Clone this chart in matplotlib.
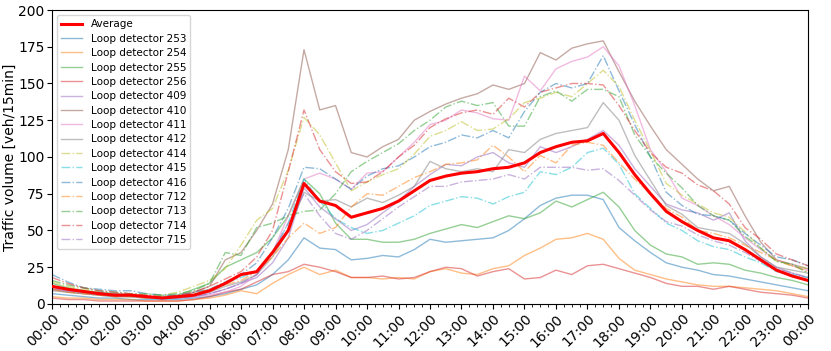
import matplotlib
matplotlib.use("Agg")
import matplotlib.pyplot as plt
import numpy as np
from matplotlib.ticker import MultipleLocator

# half-hourly readings, 00:00 .. 24:00 (49 values each)
hours = np.arange(49) * 0.5
tick_labels = [f"{h % 24:02d}:00" for h in range(25)]

average = [12, 10, 8.5, 7, 6, 6, 5, 4, 5, 6, 9, 14, 20, 22, 35, 50, 82, 70, 67, 59,
           62, 65, 70, 77, 84, 87, 89, 90, 92, 93, 96, 103, 107, 110, 111, 116, 103, 88, 75, 63,
           56, 50, 45, 43, 37, 30, 23, 19, 16]

det_253 = [7, 6, 5, 4, 4, 3, 3, 3, 3, 4, 5, 7, 10, 13, 20, 30, 45, 38, 37, 30,
           31, 33, 32, 37, 44, 42, 43, 44, 45, 50, 58, 67, 72, 74, 74, 71, 52, 43, 35, 28,
           25, 23, 20, 19, 17, 15, 13, 11, 9]
det_254 = [5, 4, 4, 3, 3, 3, 2, 2, 2, 3, 4, 6, 9, 7, 14, 20, 25, 20, 23, 18,
           18, 17, 18, 17, 22, 24, 21, 20, 24, 26, 33, 38, 44, 45, 48, 44, 31, 23, 20, 17,
           15, 13, 12, 12, 11, 10, 9, 7, 5]
det_255 = [14, 11, 9, 8, 7, 6, 5, 5, 6, 10, 14, 25, 30, 35, 45, 60, 85, 75, 55, 44,
           44, 42, 42, 44, 48, 51, 54, 52, 56, 60, 58, 62, 70, 66, 71, 76, 66, 50, 40, 34,
           32, 27, 28, 27, 23, 21, 18, 16, 13]
det_256 = [4, 3, 3, 2, 2, 2, 2, 2, 2, 3, 5, 8, 10, 15, 20, 22, 27, 25, 22, 18,
           18, 19, 17, 18, 22, 25, 24, 19, 22, 24, 17, 18, 23, 20, 26, 27, 24, 21, 18, 14,
           12, 12, 10, 12, 10, 8, 7, 6, 4]
det_409 = [10, 9, 8, 7, 6, 6, 5, 4, 4, 5, 7, 10, 14, 18, 28, 45, 79, 66, 58, 50,
           54, 62, 70, 80, 88, 95, 94, 100, 103, 96, 93, 107, 103, 107, 112, 118, 108, 92, 80, 68,
           64, 62, 57, 62, 43, 32, 25, 21, 18]
det_410 = [10, 8, 7, 6, 5, 5, 4, 4, 5, 8, 12, 30, 35, 50, 68, 105, 173, 132, 135, 103,
           100, 107, 112, 125, 131, 136, 140, 143, 149, 146, 150, 171, 166, 174, 177, 179, 158, 138, 121, 105,
           95, 85, 77, 80, 60, 42, 30, 27, 24]
det_411 = [10, 9, 8, 7, 6, 6, 5, 4, 4, 5, 6, 8, 12, 20, 35, 60, 85, 89, 85, 78,
           89, 90, 100, 110, 122, 125, 132, 130, 126, 125, 155, 145, 160, 165, 168, 175, 162, 135, 105, 90,
           72, 67, 60, 54, 45, 37, 30, 26, 23]
det_412 = [9, 8, 7, 6, 5, 5, 4, 4, 4, 6, 8, 12, 15, 20, 32, 50, 76, 70, 71, 66,
           72, 69, 74, 80, 97, 92, 90, 92, 90, 105, 103, 112, 116, 118, 120, 137, 125, 101, 84, 67,
           61, 52, 50, 48, 41, 32, 25, 23, 21]
det_414 = [15, 12, 10, 8, 7, 6, 6, 6, 8, 12, 16, 24, 40, 57, 65, 91, 127, 115, 96, 77,
           83, 88, 92, 102, 114, 118, 124, 118, 119, 126, 137, 140, 144, 141, 150, 159, 148, 125, 104, 82,
           74, 68, 62, 59, 49, 38, 29, 26, 24]
det_415 = [12, 10, 8, 7, 6, 5, 5, 4, 5, 7, 10, 14, 18, 22, 35, 55, 85, 70, 58, 52,
           48, 50, 55, 60, 67, 70, 73, 72, 68, 73, 76, 90, 88, 93, 103, 106, 95, 75, 65, 55,
           50, 43, 39, 37, 32, 28, 22, 20, 18]
det_416 = [20, 15, 11, 10, 9, 9, 7, 6, 6, 8, 10, 15, 20, 28, 45, 65, 93, 92, 85, 78,
           87, 92, 94, 100, 107, 110, 115, 113, 118, 113, 131, 144, 150, 147, 150, 169, 145, 122, 100, 76,
           67, 61, 60, 57, 48, 40, 32, 30, 26]
det_712 = [10, 8, 7, 6, 5, 5, 4, 4, 5, 7, 10, 13, 16, 22, 32, 45, 55, 48, 52, 66,
           75, 74, 80, 86, 90, 95, 96, 98, 108, 100, 90, 101, 96, 108, 110, 108, 96, 85, 75, 65,
           59, 50, 48, 45, 40, 35, 30, 26, 22]
det_713 = [16, 13, 11, 9, 8, 7, 7, 6, 7, 9, 14, 35, 33, 52, 55, 60, 63, 64, 75, 90,
           97, 103, 109, 118, 125, 134, 138, 135, 137, 121, 121, 141, 145, 138, 146, 146, 141, 115, 100, 89,
           79, 67, 60, 57, 46, 38, 29, 27, 21]
det_714 = [18, 14, 11, 9, 8, 7, 6, 5, 6, 8, 12, 17, 22, 32, 50, 90, 132, 105, 90, 82,
           83, 90, 100, 108, 120, 126, 130, 132, 129, 140, 134, 144, 147, 150, 150, 149, 135, 118, 103, 93,
           89, 81, 77, 68, 52, 44, 34, 30, 26]
det_715 = [11, 9, 8, 8, 7, 6, 5, 4, 4, 5, 7, 10, 14, 20, 35, 55, 75, 60, 48, 44,
           50, 58, 66, 73, 80, 80, 83, 84, 85, 88, 85, 93, 93, 93, 91, 92, 84, 74, 64, 56,
           53, 47, 43, 40, 35, 29, 24, 21, 18]

detectors = [
    ("253", det_253), ("254", det_254), ("255", det_255), ("256", det_256),
    ("409", det_409), ("410", det_410), ("411", det_411), ("412", det_412),
    ("414", det_414), ("415", det_415), ("416", det_416), ("712", det_712),
    ("713", det_713), ("714", det_714), ("715", det_715),
]
solid_ids = {"253", "254", "255", "256", "409", "410", "411", "412"}

fig = plt.figure(figsize=(8.31, 3.51), dpi=100)
ax = fig.add_axes([0.0626, 0.134, 0.9097, 0.8375])

colors = plt.rcParams['axes.prop_cycle'].by_key()['color']

ax.plot(hours, average, color='red', lw=2.2, label='Average', zorder=5)
for i, (name, vals) in enumerate(detectors):
    ls = '-' if name in solid_ids else '-.'
    ax.plot(hours, vals, color=colors[i % 10], lw=1.0, alpha=0.5, ls=ls,
            label=f'Loop detector {name}')

ax.set_xlim(0, 24)
ax.set_ylim(0, 200)
ax.set_xticks(range(25))
ax.set_xticklabels(tick_labels, rotation=45, ha='right', rotation_mode='anchor')
ax.xaxis.set_minor_locator(MultipleLocator(0.25))
ax.set_yticks(range(0, 201, 25))
ax.tick_params(axis='both', which='major', labelsize=10, length=3.5, pad=2)
ax.tick_params(axis='x', which='minor', length=2)
ax.set_ylabel('Traffic volume [veh/15min]', fontsize=10, labelpad=1)

ax.legend(loc='upper left', fontsize=7.5, framealpha=0.8, labelspacing=0.42)

fig.savefig('out.png', dpi=100)
